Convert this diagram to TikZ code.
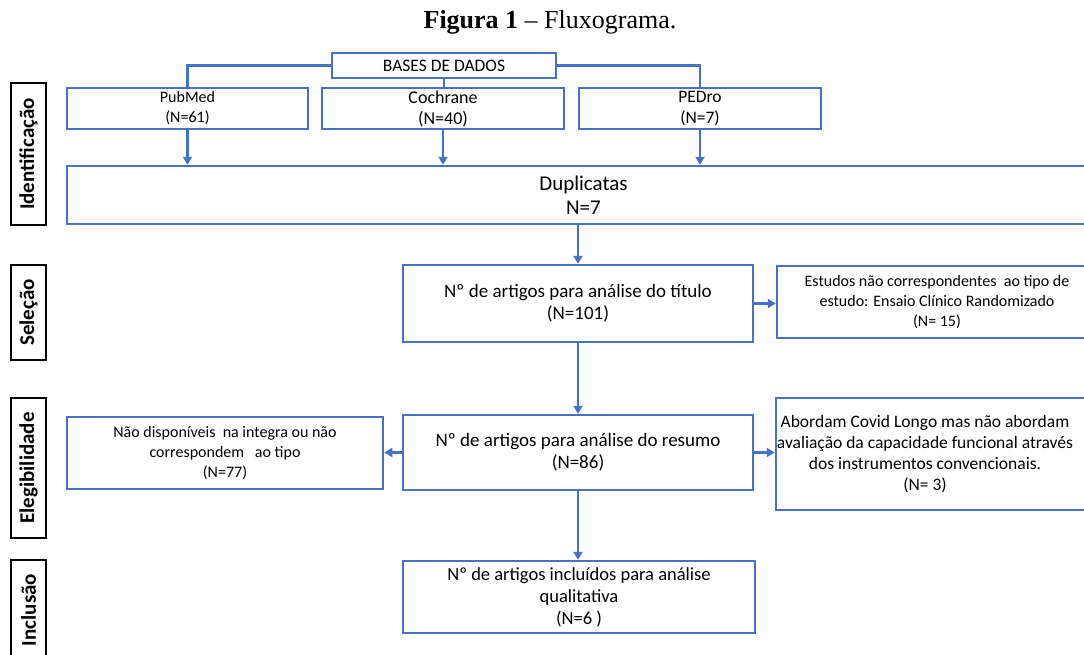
\documentclass[tikz,border=0pt]{standalone}
\usepackage{fontspec}
\setmainfont{Carlito}
\newfontfamily\timesfont{Liberation Serif}
\usetikzlibrary{arrows.meta,calc}
\definecolor{boxblue}{RGB}{68,114,196}
\begin{document}
\begin{tikzpicture}[x=1pt,y=-1pt,
  bx/.style={draw=boxblue,line width=2.5pt,rectangle,inner sep=0pt,align=center,text=black},
  lab/.style={draw=black,line width=2.5pt,rectangle,inner sep=0pt,rotate=90,minimum height=35pt,
    font=\fontsize{21}{24}\selectfont\bfseries},
  conn/.style={draw=boxblue,line width=2.5pt},
  arr/.style={conn,-{Triangle[length=8pt,width=9pt]}},
  f16/.style={font=\fontsize{16}{20}\selectfont},
  f17/.style={font=\fontsize{17.5}{21}\selectfont},
  f18/.style={font=\fontsize{18}{21}\selectfont},
  f19/.style={font=\fontsize{19}{22}\selectfont},
]
\useasboundingbox (0,0) rectangle (1084,654);
\clip (0,0) rectangle (1084,654);

% title
\node[anchor=base,font=\timesfont\fontsize{26}{30}\selectfont] (title) at (550,28)
  {\textbf{Figura 1} – Fluxograma.};

% side labels
\node[lab,minimum width=142pt] (lid) at (28.5,154) {Identificação};
\node[lab,minimum width=95pt] (lsel) at (28.5,312.5) {Seleção};
\node[lab,minimum width=140pt] (leleg) at (28.5,468) {Elegibilidade};
\node[lab,minimum width=100pt] (linc) at (28.5,610) {Inclusão};

% boxes
\node[bx,f17,minimum width=224pt,minimum height=25pt] (bases) at (444,65.5) {BASES DE DADOS};
\node[bx,f16,minimum width=241pt,minimum height=41pt] (pubmed) at (187.5,108.5) {PubMed\\(N=61)};
\node[bx,f18,minimum width=242pt,minimum height=41pt] (cochrane) at (443,108.5) {Cochrane\\(N=40)};
\node[bx,f17,minimum width=242pt,minimum height=41pt] (pedro) at (700,108.5) {PEDro\\(N=7)};
\node[bx,font=\fontsize{21}{24}\selectfont,minimum width=1033pt,minimum height=58pt] (dup) at (583.5,195) {Duplicatas\\N=7};
\node[bx,f19,minimum width=350pt,minimum height=77pt] (tit) at (578,303.5) {Nº de artigos para análise do título\\(N=101)};
\node[bx,f16,minimum width=320pt,minimum height=72pt] (est) at (937,302)
  {Estudos não correspondentes\ \ ao tipo de\\estudo: Ensaio Clínico Randomizado\\(N= 15)};
\node[bx,f19,minimum width=350pt,minimum height=75pt] (res) at (578,452.5) {Nº de artigos para análise do resumo\\(N=86)};
\node[bx,f16,minimum width=316pt,minimum height=72pt] (nao) at (225,453)
  {Não disponíveis\ \ na integra ou não\\correspondem\ \ \ ao tipo\\(N=77)};
\node[bx,minimum width=324pt,minimum height=112pt] (abo) at (938,454) {};
\node[align=center,f17,inner sep=0pt] (abot) at (925,454)
  {Abordam Covid Longo mas não abordam\\avaliação da capacidade funcional através\\dos instrumentos convencionais.\\(N= 3)};
\node[bx,font=\fontsize{18.5}{22}\selectfont,minimum width=352pt,minimum height=72pt] (inc) at (579,597)
  {Nº de artigos incluídos para análise\\qualitativa\\(N=6 )};

% connectors
\draw[conn] (bases.west) -| (pubmed.north);
\draw[conn] (bases.east) -| (pedro.north);
\draw[conn] (bases.south) -- (bases.south |- cochrane.north);
\draw[arr] (pubmed.south) -- (pubmed.south |- dup.north);
\draw[arr] (cochrane.south) -- (cochrane.south |- dup.north);
\draw[arr] (pedro.south) -- (pedro.south |- dup.north);
\draw[arr] (tit.north |- dup.south) -- (tit.north);
\draw[arr] (tit.east) -- (tit.east -| est.west);
\draw[arr] (tit.south) -- (res.north);
\draw[arr] (res.west) -- (res.west -| nao.east);
\draw[arr] (res.east) -- (res.east -| abo.west);
\draw[arr] (res.south) -- (res.south |- inc.north);
\end{tikzpicture}
\end{document}
